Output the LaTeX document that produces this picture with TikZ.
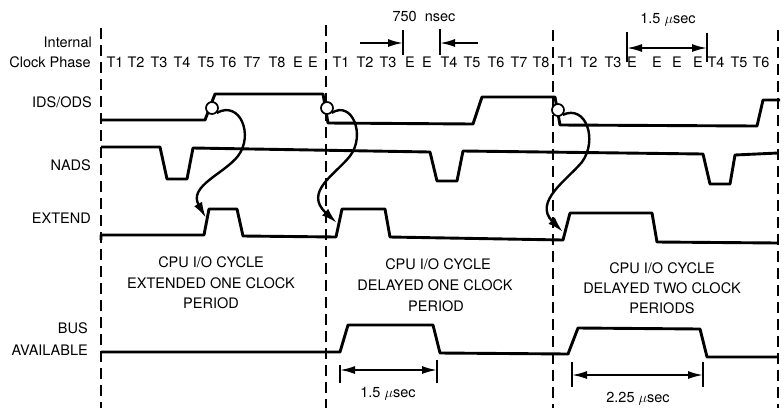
\documentclass[tikz,border=0pt]{standalone}
\usepackage{fontspec}
\setmainfont{TeX Gyre Heros}
\usetikzlibrary{arrows.meta}
\begin{document}
\begin{tikzpicture}[x=1pt,y=-1pt,
  sig/.style={line width=2.9pt, line join=round},
  guide/.style={line width=1.8pt, dash pattern=on 11pt off 6pt},
  lbl/.style={anchor=east, font=\fontsize{14.5}{17}\selectfont, inner sep=0pt, text height=10.4pt, text depth=0pt},
  txt/.style={font=\fontsize{14.5}{17}\selectfont, inner sep=0pt, text height=10.4pt, text depth=0pt},
  ring/.style={circle, draw, line width=1.7pt, fill=white, minimum size=12pt, inner sep=0pt},
  curvearrow/.style={line width=2.4pt, -{Latex[length=16pt,width=9pt]}},
  meas/.style={line width=1.8pt, {Latex[length=15pt,width=8pt]}-{Latex[length=15pt,width=8pt]}},
  one/.style={line width=1.8pt, -{Latex[length=15pt,width=8pt]}},
  tick/.style={line width=1.8pt}
]
\useasboundingbox (0,0) rectangle (784,408);

% guide lines
\draw[guide] (101,28) -- (101,408);
\draw[guide] (326,25) -- (326,408);
\draw[guide] (553,30) -- (553,408);
\draw[guide] (778,30) -- (778,408);

% left labels
\node[lbl] (lInt) at (92,42) {Internal};
\node[lbl] (lClk) at (91,62) {Clock Phase};
\node[lbl] (lIds) at (92,102) {IDS/ODS};
\node[lbl] (lNads) at (91,165) {NADS};
\node[lbl] (lExt) at (91,218) {EXTEND};
\node[lbl] (lBus) at (88,328) {BUS};
\node[lbl] (lAv) at (88,350) {AVAILABLE};

% clock phases
\foreach \x/\t [count=\i] in {115/T1,136/T2,159/T3,182/T4,206/T5,228/T6,252/T7,277/T8,298/E,313/E,
  341/T1,365/T2,388/T3,410/E,427/E,449/T4,472/T5,496/T6,519/T7,541/T8,
  566/T1,589/T2,613/T3,632/E,657/E,677/E,698/E,716/T4,739/T5,761/T6}
  \node[txt] (ph\i) at (\x,62) {\t};

% top measurements
\node[txt] (m750) at (424,16) {750\ \ nsec};
\draw[tick] (403,30) -- (403,55);
\draw[tick] (440,29) -- (440,55);
\coordinate (a1s) at (360,43); \coordinate (a1e) at (403,43);
\coordinate (a2s) at (478,43); \coordinate (a2e) at (440,43);
\draw[one] (a1s) -- (a1e);
\draw[one] (a2s) -- (a2e);

\node[txt] (m15t) at (668,18) {1.5 $\mu$sec};
\draw[tick] (627,32) -- (627,62);
\draw[tick] (707,33) -- (707,62);
\coordinate (b1) at (627,48); \coordinate (b2) at (707,48);
\draw[meas] (b1) -- (b2);

% IDS/ODS
\draw[sig] (101,120) -- (205,120) -- (215,94) -- (323,94) -- (328,123) -- (473,124)
  -- (482,97) -- (555,97) -- (560,125) -- (757,126) -- (763,100) -- (780,100);

% NADS
\draw[sig] (101,147) -- (160,147) -- (167,179) -- (187,179) -- (193,148) -- (430,152)
  -- (437,181) -- (457,181) -- (463,151) -- (703,154) -- (710,184) -- (730,184)
  -- (735,155) -- (778,153);

% EXTEND
\draw[sig] (101,240) -- (101,235) -- (204,235) -- (209,209) -- (237,209) -- (243,236)
  -- (336,237) -- (342,209) -- (385,209) -- (390,237) -- (563,240) -- (570,213)
  -- (652,213) -- (657,242) -- (778,243);

% BUS AVAILABLE
\draw[sig] (101,352) -- (340,352) -- (348,325) -- (433,325) -- (440,353) -- (568,354)
  -- (578,328) -- (700,329) -- (707,357) -- (778,357);

% circles and curved arrows
\node[ring] (c1) at (212,108) {};
\node[ring] (c2) at (327,108) {};
\node[ring] (c3) at (558,110) {};
\coordinate (e1) at (206,218);
\coordinate (e2) at (337,223);
\coordinate (e3) at (563,232);
\draw[curvearrow] (c1.south east) .. controls (240,100) and (254,135) .. (238,156)
  .. controls (224,174) and (188,186) .. (e1);
\draw[curvearrow] (c2.south east) .. controls (352,100) and (366,135) .. (350,156)
  .. controls (336,174) and (303,192) .. (e2);
\draw[curvearrow] (c3.south east) .. controls (586,104) and (598,140) .. (582,162)
  .. controls (567,180) and (533,202) .. (e3);

% cycle texts
\node[txt] (t11) at (211,262) {CPU I/O CYCLE};
\node[txt] (t12) at (211,283) {EXTENDED ONE CLOCK};
\node[txt] (t13) at (211,303) {PERIOD};
\node[txt] (t21) at (438,264) {CPU I/O CYCLE};
\node[txt] (t22) at (435,285) {DELAYED ONE CLOCK};
\node[txt] (t23) at (436,306) {PERIOD};
\node[txt] (t31) at (662,268) {CPU I/O CYCLE};
\node[txt] (t32) at (662,288) {DELAYED TWO CLOCK};
\node[txt] (t33) at (662,308) {PERIODS};

% bottom measurements
\draw[tick] (340,365) -- (340,383);
\draw[tick] (437,360) -- (437,383);
\coordinate (d1) at (340,370); \coordinate (d2) at (437,370);
\draw[meas] (d1) -- (d2);
\node[txt] (m15b) at (388,392) {1.5 $\mu$sec};

\draw[tick] (572,362) -- (572,387);
\draw[tick] (703,362) -- (703,387);
\coordinate (f1) at (572,375); \coordinate (f2) at (703,375);
\draw[meas] (f1) -- (f2);
\node[txt] (m225) at (638,397) {2.25 $\mu$sec};
\end{tikzpicture}
\end{document}
